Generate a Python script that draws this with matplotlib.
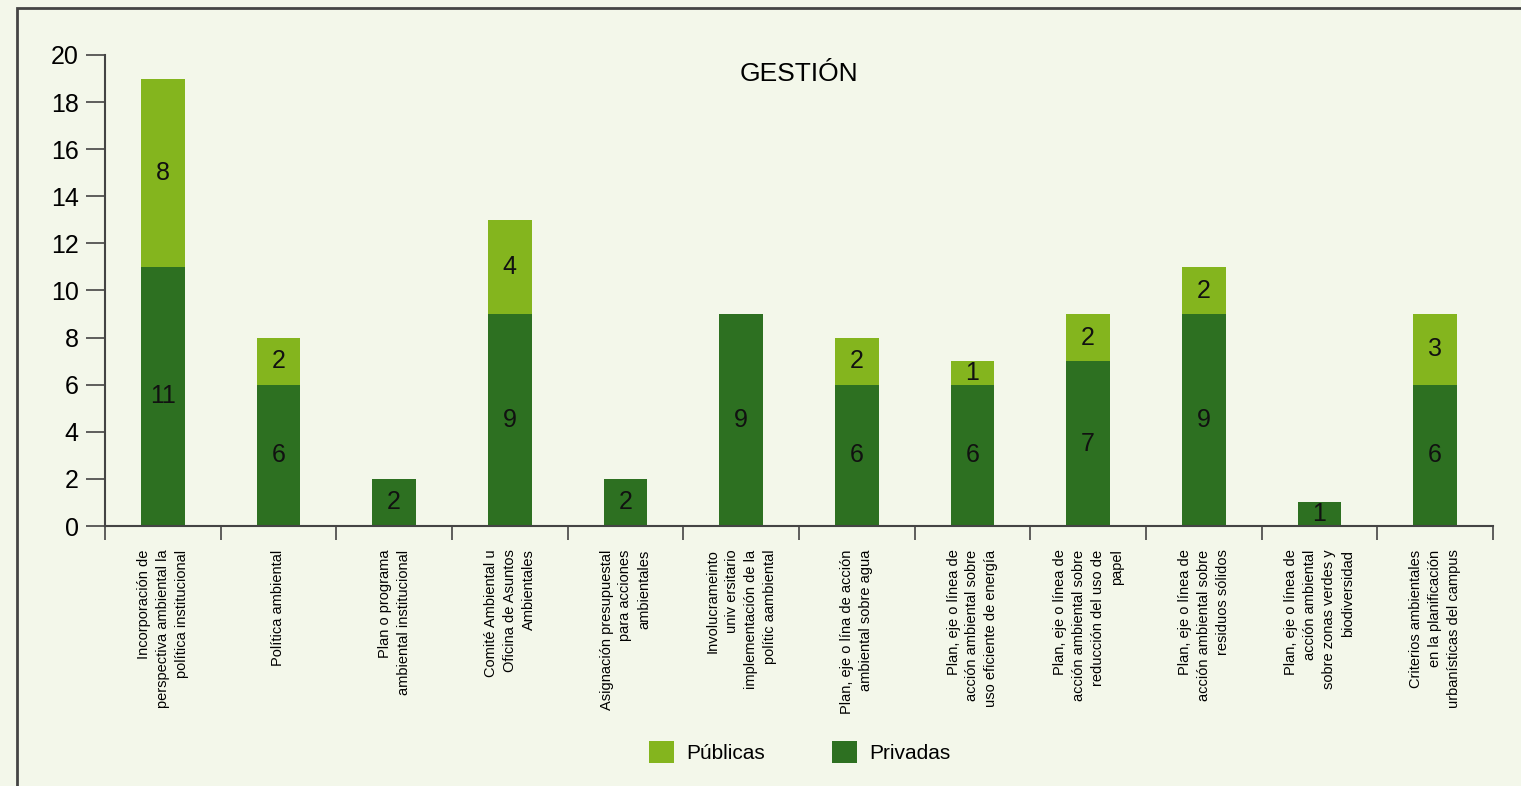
import numpy as np
import matplotlib
matplotlib.use("Agg")
import matplotlib.pyplot as plt
from matplotlib.patches import Rectangle

plt.rcParams['font.family'] = ['Liberation Sans Narrow', 'Liberation Sans', 'DejaVu Sans']

categorias = [
    "Incorporación de\nperspectiva ambiental la\npolítica institucional",
    "Política ambiental",
    "Plan o programa\nambiental institucional",
    "Comité Ambiental u\nOficina de Asuntos\nAmbientales",
    "Asignación presupuestal\npara acciones\nambientales",
    "Involucrameinto\nuniv ersitario\nimplementación de la\npolític aambiental",
    "Plan, eje o lína de acción\nambiental sobre agua",
    "Plan, eje o línea de\nacción ambiental sobre\nuso eficiente de energía",
    "Plan, eje o línea de\nacción ambiental sobre\nreducción del uso de\npapel",
    "Plan, eje o línea de\nacción ambiental sobre\nresiduos sólidos",
    "Plan, eje o línea de\nacción ambiental\nsobre zonas verdes y\nbiodiversidad",
    "Criterios ambientales\nen la planificación\nurbanísticas del campus",
]
privadas = [11, 6, 2, 9, 2, 9, 6, 6, 7, 9, 1, 6]
publicas = [8, 2, 0, 4, 0, 0, 2, 1, 2, 2, 0, 3]

c_pub = '#84b51e'
c_priv = '#2d7021'
bg = '#f3f7ea'

fig = plt.figure(figsize=(15.21, 7.86), dpi=100, facecolor=bg)
ax = fig.add_axes([105/1521, 1-526/786, (1493-105)/1521, (526-55)/786])
ax.set_facecolor(bg)

x = np.arange(len(categorias))
w = 0.38
priv = np.array(privadas)
pub = np.array(publicas)
ax.bar(x, priv, w, color=c_priv, label='Privadas', zorder=2)
ax.bar(x, pub, w, bottom=priv, color=c_pub, label='Públicas', zorder=2)

# etiquetas de valor en el centro de cada segmento
for i in range(len(x)):
    if priv[i] > 0:
        ax.text(x[i], priv[i]/2, str(priv[i]), ha='center', va='center', fontsize=18, color='#111111')
    if pub[i] > 0:
        ax.text(x[i], priv[i] + pub[i]/2, str(pub[i]), ha='center', va='center', fontsize=18, color='#111111')

ax.set_xlim(-0.5, len(x) - 0.5)
ax.set_ylim(0, 20)
ax.set_yticks(range(0, 21, 2))
ax.tick_params(axis='y', labelsize=18, length=14, width=1.2, color='#444444', pad=5)

ax.set_xticks(np.arange(-0.5, len(x)))
ax.set_xticklabels([])
ax.tick_params(axis='x', length=10, width=1.2, color='#444444')
for i, lab in enumerate(categorias):
    ax.text(x[i], -1.0, lab, rotation=90, ha='center', va='top', ma='right',
            fontsize=10.5, linespacing=1.45, clip_on=False)

for s in ['top', 'right']:
    ax.spines[s].set_visible(False)
for s in ['left', 'bottom']:
    ax.spines[s].set_color('#444444')
    ax.spines[s].set_linewidth(1.5)

ax.text(0.5, 0.96, 'GESTIÓN', transform=ax.transAxes, ha='center', va='center', fontsize=19)

h, l = ax.get_legend_handles_labels()
fig.legend(h[::-1], l[::-1], loc='center', bbox_to_anchor=(800/1521, 1-752/786), ncol=2,
           frameon=False, fontsize=15, handlelength=1.2, handleheight=1.2,
           columnspacing=3.2, handletextpad=0.6)

fig.patches.append(Rectangle((17/1521, -0.1), 1.2, 1 - 8/786 + 0.1, transform=fig.transFigure,
                             fill=False, edgecolor='#444444', linewidth=2))

fig.savefig('out.png', dpi=100, facecolor=bg)
